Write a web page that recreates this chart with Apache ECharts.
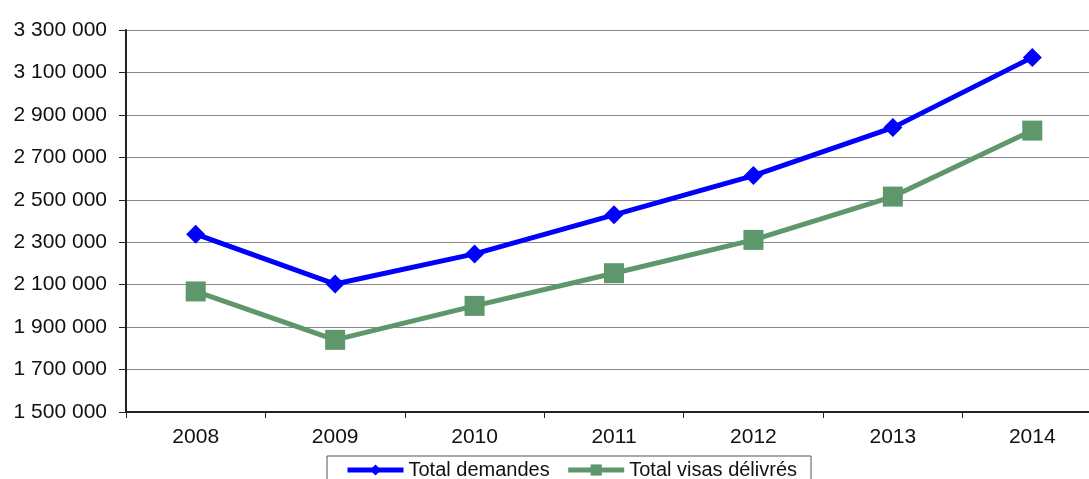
<!DOCTYPE html>
<html>
<head>
<meta charset="utf-8">
<script src="https://cdn.jsdelivr.net/npm/echarts@6/dist/echarts.min.js"></script>
<style>
html,body{margin:0;padding:0;background:#fff;overflow:hidden;width:1089px;height:479px;}
#c{width:1102px;height:479px;}
</style>
</head>
<body>
<div id="c"></div>
<script>
const categories = ['2008','2009','2010','2011','2012','2013','2014'];
const totalDemandes = [2338000, 2103000, 2245000, 2429000, 2614000, 2840000, 3171000];
const totalVisas = [2068000, 1840000, 2000000, 2154000, 2311000, 2515000, 2826000];
const seriesNames = ['Total demandes', 'Total visas délivrés'];

function fmt(v){
  return String(v).replace(/\B(?=(\d{3})+(?!\d))/g, ' ');
}

const chart = echarts.init(document.getElementById('c'));
chart.setOption({
  animation: false,
  textStyle: {fontFamily: 'Liberation Sans, Arial, sans-serif'},
  grid: {left: 126, top: 30, right: 0, height: 382, containLabel: false},
  legend: {
    left: 327, top: 456,
    padding: [4, 14, 10, 18],
    itemGap: 16,
    itemWidth: 56, itemHeight: 14,
    borderColor: '#555', borderWidth: 1,
    lineStyle: {width: 5},
    textStyle: {fontSize: 20, color: '#111', fontFamily: 'Liberation Sans, Arial, sans-serif'},
    data: seriesNames
  },
  xAxis: {
    type: 'category',
    data: categories,
    boundaryGap: true,
    axisLine: {lineStyle: {color: '#222', width: 2}},
    axisTick: {show: true, length: 6, lineStyle: {color: '#222', width: 1}},
    axisLabel: {fontSize: 21, color: '#111', margin: 15}
  },
  yAxis: {
    type: 'value',
    min: 1500000, max: 3300000, interval: 200000,
    axisLine: {show: true, lineStyle: {color: '#222', width: 2}},
    axisTick: {show: true, length: 7, lineStyle: {color: '#222', width: 1}},
    splitLine: {lineStyle: {color: '#888', width: 1}},
    axisLabel: {fontSize: 21, color: '#111', margin: 19, formatter: fmt}
  },
  series: [
    {
      name: seriesNames[0], type: 'line', data: totalDemandes,
      symbol: 'diamond', symbolSize: 19,
      lineStyle: {color: '#0000ff', width: 5},
      itemStyle: {color: '#0000ff'}
    },
    {
      name: seriesNames[1], type: 'line', data: totalVisas,
      symbol: 'rect', symbolSize: 20,
      lineStyle: {color: '#5e976c', width: 5},
      itemStyle: {color: '#5e976c'}
    }
  ]
});
</script>
</body>
</html>
